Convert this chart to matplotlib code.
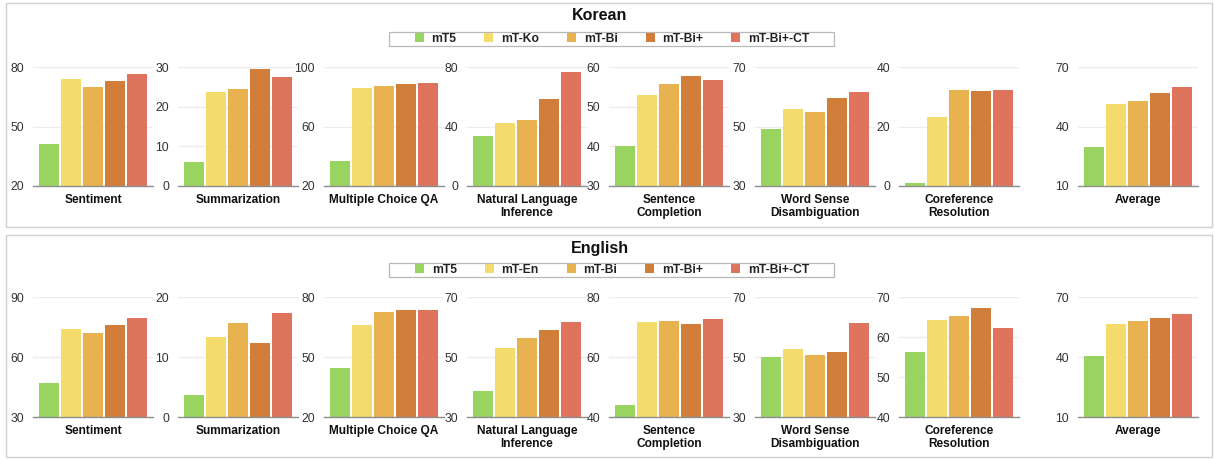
import matplotlib
matplotlib.use("Agg")
import matplotlib.pyplot as plt
from matplotlib.patches import Patch, Rectangle

plt.rcParams['font.family'] = ['Liberation Sans', 'DejaVu Sans']

# ---------------- data ----------------
categories = ["Sentiment", "Summarization", "Multiple Choice QA",
              "Natural Language\nInference", "Sentence\nCompletion",
              "Word Sense\nDisambiguation", "Coreference\nResolution", "Average"]

ko_models = ["mT5", "mT-Ko", "mT-Bi", "mT-Bi+", "mT-Bi+-CT"]
en_models = ["mT5", "mT-En", "mT-Bi", "mT-Bi+", "mT-Bi+-CT"]

# Korean values, one list per model (order follows categories)
ko_mt5      = [41.1,  6.1, 37.0, 33.3, 40.1, 49.3,  1.0, 29.8]
ko_mtko     = [74.0, 23.8, 86.1, 42.2, 53.0, 56.0, 23.2, 51.2]
ko_mtbi     = [69.9, 24.4, 87.3, 44.2, 55.8, 54.9, 32.2, 52.7]
ko_mtbiplus = [72.8, 29.4, 88.8, 58.3, 57.7, 59.6, 31.8, 56.9]
ko_mtbict   = [76.6, 27.6, 89.5, 76.6, 56.6, 61.7, 32.4, 60.1]

# English values
en_mt5      = [46.8,  3.7, 44.7, 38.7, 44.1, 50.1, 56.3, 40.7]
en_mten     = [74.2, 13.3, 65.8, 53.1, 71.6, 52.6, 64.3, 56.3]
en_mtbi     = [72.0, 15.7, 72.7, 56.2, 71.9, 50.8, 65.3, 57.8]
en_mtbiplus = [75.8, 12.4, 73.3, 59.0, 71.0, 51.7, 67.3, 59.7]
en_mtbict   = [79.7, 17.4, 73.3, 61.8, 72.7, 61.2, 62.3, 61.5]

# y-axis ticks per subplot
ko_ticks = [[20, 50, 80], [0, 10, 20, 30], [20, 60, 100], [0, 40, 80],
            [30, 40, 50, 60], [30, 50, 70], [0, 20, 40], [10, 40, 70]]
en_ticks = [[30, 60, 90], [0, 10, 20], [20, 50, 80], [30, 50, 70],
            [40, 60, 80], [30, 50, 70], [40, 50, 60, 70], [10, 40, 70]]

colors = ["#98d45f", "#f3dc6b", "#e7b24f", "#d27e3b", "#de735e"]

# ---------------- layout ----------------
W, H = 1214, 459
fig = plt.figure(figsize=(W / 100, H / 100), dpi=100)

ax_lefts = [33, 178, 324, 467, 609, 755, 899, 1078]
ax_width = 120


def fig_rect(left, top, right, bottom):
    return [left / W, 1 - bottom / H, (right - left) / W, (bottom - top) / H]


def draw_panel(title, title_y, legend_y, box_top, box_bottom, ax_top, ax_bottom,
               models, series, ticks):
    # panel border
    fig.patches.append(Rectangle((6 / W, 1 - box_bottom / H), (1212 - 6) / W,
                                 (box_bottom - box_top) / H, transform=fig.transFigure,
                                 facecolor='none', edgecolor='#d0d0d0', lw=1.0))
    fig.text(600 / W, 1 - title_y / H, title, ha='center', va='center',
             fontsize=11.5, fontweight='bold', color='#111111')
    # legend box
    fig.patches.append(Rectangle((389 / W, 1 - (legend_y + 7) / H), (834 - 389) / W,
                                 14 / H, transform=fig.transFigure,
                                 facecolor='white', edgecolor='#b8b8b8', lw=0.9, zorder=1))
    handles = [Patch(facecolor=c, edgecolor='none') for c in colors]
    leg = fig.legend(handles, models, loc='center', bbox_to_anchor=(612 / W, 1 - legend_y / H),
                     ncol=5, frameon=False, handlelength=0.75, handleheight=0.75,
                     handletextpad=0.65, columnspacing=2.3, borderpad=0.1,
                     prop=dict(weight='bold', size=8.7))
    for t in leg.get_texts():
        t.set_color('#222222')

    for i, cat in enumerate(categories):
        ax = fig.add_axes(fig_rect(ax_lefts[i], ax_top, ax_lefts[i] + ax_width, ax_bottom))
        vals = [s[i] for s in series]
        ax.bar(range(len(vals)), vals, width=0.9, color=colors, zorder=3)
        tk = ticks[i]
        ax.set_ylim(tk[0], tk[-1])
        ax.set_yticks(tk)
        ax.set_xlim(-0.7, 4.7)
        ax.set_xticks([])
        for s in ['top', 'right', 'left']:
            ax.spines[s].set_visible(False)
        ax.spines['bottom'].set_color('#8e8e8e')
        ax.spines['bottom'].set_linewidth(1.0)
        ax.spines['bottom'].set_zorder(4)
        ax.tick_params(axis='y', length=0, pad=6.5, labelsize=8.8, labelcolor='#333333')
        ax.grid(axis='y', color='#ececec', lw=0.9, zorder=0)
        ax.set_axisbelow(True)
        ax.set_facecolor('none')
        ax.annotate(cat, xy=(0.5, 0), xycoords='axes fraction', xytext=(0, -5.5),
                    textcoords='offset points', ha='center', va='top',
                    fontsize=8.6, fontweight='bold', color='#111111', linespacing=1.1)


draw_panel("Korean", 16, 39, 3, 227, 67, 186, ko_models,
           [ko_mt5, ko_mtko, ko_mtbi, ko_mtbiplus, ko_mtbict], ko_ticks)
draw_panel("English", 248, 270, 235, 457, 297, 417, en_models,
           [en_mt5, en_mten, en_mtbi, en_mtbiplus, en_mtbict], en_ticks)

fig.savefig("out.png", dpi=100, facecolor='white')
